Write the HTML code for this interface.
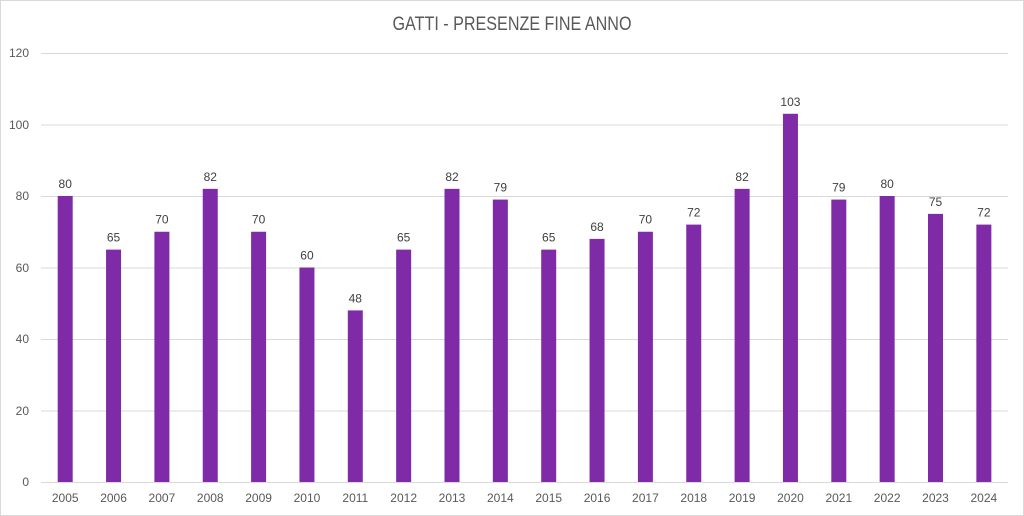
<!DOCTYPE html>
<html><head><meta charset="utf-8"><style>body{margin:0;background:#fff}svg{display:block}</style></head><body>
<svg width="1024" height="516" xmlns="http://www.w3.org/2000/svg" font-family="Liberation Sans, sans-serif">
<rect x="0.5" y="0.5" width="1023" height="515" fill="#fff" stroke="#d9d9d9"/>
<text x="512" y="30" text-anchor="middle" font-size="19" fill="#595959" textLength="239" lengthAdjust="spacingAndGlyphs">GATTI - PRESENZE FINE ANNO</text>
<g stroke="#d9d9d9" stroke-width="1">
<line x1="41" x2="1008" y1="53.5" y2="53.5"/><line x1="41" x2="1008" y1="125" y2="125"/><line x1="41" x2="1008" y1="196.5" y2="196.5"/><line x1="41" x2="1008" y1="268" y2="268"/><line x1="41" x2="1008" y1="339.5" y2="339.5"/><line x1="41" x2="1008" y1="411" y2="411"/><line x1="41" x2="1008" y1="482.5" y2="482.5"/>
</g>
<g font-size="12" fill="#595959" text-anchor="end">
<text x="29" y="57">120</text><text x="29" y="129">100</text><text x="29" y="200">80</text><text x="29" y="272">60</text><text x="29" y="343">40</text><text x="29" y="415">20</text><text x="29" y="486">0</text>
</g>
<g fill="#7F2AA6">
<rect x="57.7" y="196" width="15" height="286"/>
<rect x="106.05" y="249.625" width="15" height="232.375"/>
<rect x="154.4" y="231.75" width="15" height="250.25"/>
<rect x="202.75" y="188.85" width="15" height="293.15"/>
<rect x="251.1" y="231.75" width="15" height="250.25"/>
<rect x="299.45" y="267.5" width="15" height="214.5"/>
<rect x="347.8" y="310.4" width="15" height="171.6"/>
<rect x="396.15" y="249.625" width="15" height="232.375"/>
<rect x="444.5" y="188.85" width="15" height="293.15"/>
<rect x="492.85" y="199.575" width="15" height="282.425"/>
<rect x="541.2" y="249.625" width="15" height="232.375"/>
<rect x="589.55" y="238.9" width="15" height="243.1"/>
<rect x="637.9" y="231.75" width="15" height="250.25"/>
<rect x="686.25" y="224.6" width="15" height="257.4"/>
<rect x="734.6" y="188.85" width="15" height="293.15"/>
<rect x="782.95" y="113.775" width="15" height="368.225"/>
<rect x="831.3" y="199.575" width="15" height="282.425"/>
<rect x="879.65" y="196" width="15" height="286"/>
<rect x="928" y="213.875" width="15" height="268.125"/>
<rect x="976.35" y="224.6" width="15" height="257.4"/>
</g>
<g font-size="12" fill="#404040" text-anchor="middle">
<text x="65.2" y="188">80</text>
<text x="113.55" y="241.6">65</text>
<text x="161.9" y="223.7">70</text>
<text x="210.25" y="180.8">82</text>
<text x="258.6" y="223.7">70</text>
<text x="306.95" y="259.5">60</text>
<text x="355.3" y="302.4">48</text>
<text x="403.65" y="241.6">65</text>
<text x="452" y="180.8">82</text>
<text x="500.35" y="191.6">79</text>
<text x="548.7" y="241.6">65</text>
<text x="597.05" y="230.9">68</text>
<text x="645.4" y="223.7">70</text>
<text x="693.75" y="216.6">72</text>
<text x="742.1" y="180.8">82</text>
<text x="790.45" y="105.8">103</text>
<text x="838.8" y="191.6">79</text>
<text x="887.15" y="188">80</text>
<text x="935.5" y="205.9">75</text>
<text x="983.85" y="216.6">72</text>
</g>
<g font-size="12" fill="#595959" text-anchor="middle">
<text x="65.2" y="502">2005</text><text x="113.55" y="502">2006</text><text x="161.9" y="502">2007</text><text x="210.25" y="502">2008</text><text x="258.6" y="502">2009</text><text x="306.95" y="502">2010</text><text x="355.3" y="502">2011</text><text x="403.65" y="502">2012</text><text x="452" y="502">2013</text><text x="500.35" y="502">2014</text><text x="548.7" y="502">2015</text><text x="597.05" y="502">2016</text><text x="645.4" y="502">2017</text><text x="693.75" y="502">2018</text><text x="742.1" y="502">2019</text><text x="790.45" y="502">2020</text><text x="838.8" y="502">2021</text><text x="887.15" y="502">2022</text><text x="935.5" y="502">2023</text><text x="983.85" y="502">2024</text>
</g>
</svg>
</body></html>
